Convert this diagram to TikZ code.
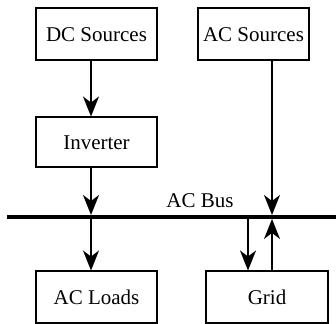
\documentclass[tikz,border=0pt]{standalone}
\usepackage{fontspec}
\setmainfont{Liberation Serif}
\usepackage{tikz}
\usetikzlibrary{arrows.meta,positioning}
\definecolor{inkblack}{RGB}{0,0,0}

\begin{document}
\begin{tikzpicture}[font=\rmfamily\fontsize{10.5}{12}\selectfont, >={Stealth[length=10pt,width=8pt,inset=3pt]},
  unit/.style={draw=inkblack, line width=1pt, minimum width=60.5pt, minimum height=26pt, inner sep=2pt},
  ar/.style={->, line width=1pt, draw=inkblack},
  busline/.style={line width=2pt, draw=inkblack}]
\useasboundingbox (0,0) rectangle (168pt,-162pt);
\node[unit] (dc) at (48.25pt,-17.25pt) {DC Sources};
\node[unit, minimum width=55.5pt, right=19.5pt of dc] (acs) {AC Sources};
\node[unit, minimum height=25pt, below=27.5pt of dc] (inv) {Inverter};
\node[unit, below=51pt of inv] (loads) {AC Loads};
\node[unit, minimum width=61pt, right=23.5pt of loads] (grid) {Grid};
% bus and its taps
\coordinate (busW) at (3.5pt,-108.5pt);
\coordinate (busE) at (168pt,-108.5pt);
\coordinate (tapL) at (45.5pt,-108.5pt);
\coordinate (tapG) at (124pt,-108.5pt);
\coordinate (tapR) at (136pt,-108.5pt);
\draw[busline] (busW) -- (busE);
\node[above=4.5pt of tapL, xshift=54.5pt, inner sep=0pt] (buslbl) {AC Bus};
\draw[ar] (dc.south -| tapL) -- (inv.north -| tapL);
\draw[ar, shorten >=1pt] (inv.south -| tapL) -- (tapL);
\draw[ar] (tapL) -- (loads.north -| tapL);
\draw[ar, shorten >=1pt] (acs.south -| tapR) -- (tapR);
\draw[ar] (tapG) -- (grid.north -| tapG);
\draw[ar, shorten >=1pt] (grid.north -| tapR) -- (tapR);
\end{tikzpicture}
\end{document}
